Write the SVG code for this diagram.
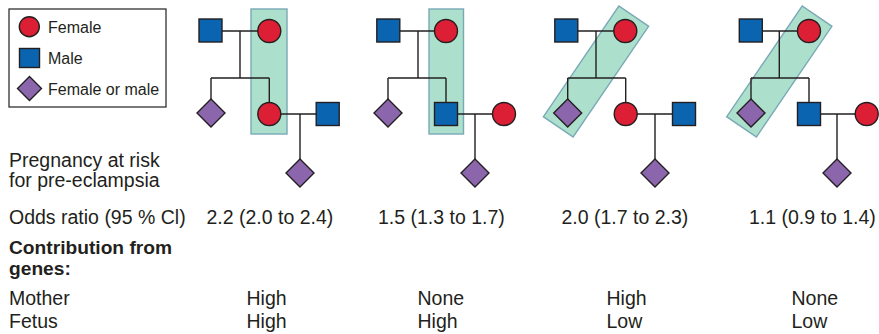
<svg xmlns="http://www.w3.org/2000/svg" width="879" height="334" viewBox="0 0 879 334">
<style>
.t{font-family:"Liberation Sans",Arial,sans-serif;fill:#231f20;font-size:19.5px}
.lg{font-family:"Liberation Sans",Arial,sans-serif;fill:#231f20;font-size:16px}
.b{font-weight:bold;font-size:19.2px}
.f{fill:#dc1f34;stroke:#231f20;stroke-width:1.4}
.m{fill:#0b64b0;stroke:#231f20;stroke-width:1.4}
.d{fill:#8c66ad;stroke:#231f20;stroke-width:1.4}
.hl{fill:#ace0cc;stroke:#7aa9b6;stroke-width:1.4}
.ln{fill:none;stroke:#231f20;stroke-width:1.4}
</style>
<defs>
<circle id="fc" r="11.5" class="f"/>
<rect id="ms" x="-11.5" y="-11.5" width="23" height="23" class="m"/>
<polygon id="dm" points="0,-14 14,0 0,14 -14,0" class="d"/>
</defs>
<rect width="879" height="334" fill="#ffffff"/>

<g id="legend">
<rect x="9" y="9" width="157" height="98" fill="#ffffff" stroke="#231f20" stroke-width="1.2"/>
<circle cx="29.3" cy="26.7" r="10" class="f"/>
<rect x="19.5" y="48.5" width="20" height="19" class="m"/>
<polygon points="29.5,76.5 41.5,88.5 29.5,100.5 17.5,88.5" class="d"/>
<text x="48" y="33" class="lg">Female</text>
<text x="48" y="64" class="lg">Male</text>
<text x="48" y="94.5" class="lg">Female or male</text>
</g>

<g id="highlights">
<rect x="251" y="9" width="36" height="125" class="hl"/>
<rect x="429" y="9" width="34.5" height="125" class="hl"/>
<rect x="-18" y="-67" width="36" height="134" class="hl" transform="translate(596 71.5) rotate(34.3)"/>
<rect x="-18" y="-67" width="36" height="134" class="hl" transform="translate(779.3 71.5) rotate(34.3)"/>
</g>

<g id="connectors">
<path class="ln" d="M210.5 31H269.3M240 31V78M211 78H269.3M211 78V113M269.3 78V114M269.3 114H327.7M300 114V173"/>
<path class="ln" d="M388.3 31H446M418 31V78M388 78H446M388 78V113M446 78V114M446 114H504M475 114V173"/>
<path class="ln" d="M566.3 31H625.3M596 31V78M567.7 78H625.7M567.7 78V113M625.7 78V114M625.7 114H684M655 114V173"/>
<path class="ln" d="M750.8 31H809M779.3 31V78M751 78H809M751 78V113M809 78V114M809 114H866.7M837 114V173"/>
</g>

<g id="pedigree1">
<use href="#ms" x="210.5" y="30.5"/>
<use href="#fc" x="269.3" y="31"/>
<use href="#dm" x="211" y="113"/>
<use href="#fc" x="269.3" y="114"/>
<use href="#ms" x="327.7" y="114"/>
<use href="#dm" x="300" y="173"/>
</g>
<g id="pedigree2">
<use href="#ms" x="388.3" y="30.5"/>
<use href="#fc" x="446" y="31"/>
<use href="#dm" x="388" y="113"/>
<use href="#ms" x="446" y="114"/>
<use href="#fc" x="504" y="114"/>
<use href="#dm" x="475" y="173"/>
</g>
<g id="pedigree3">
<use href="#ms" x="566.3" y="30.5"/>
<use href="#fc" x="625.3" y="31"/>
<use href="#dm" x="567.7" y="113"/>
<use href="#fc" x="625.7" y="114"/>
<use href="#ms" x="684" y="114"/>
<use href="#dm" x="655" y="173"/>
</g>
<g id="pedigree4">
<use href="#ms" x="750.8" y="30.5"/>
<use href="#fc" x="809" y="31"/>
<use href="#dm" x="751" y="113"/>
<use href="#ms" x="809" y="114"/>
<use href="#fc" x="866.7" y="114"/>
<use href="#dm" x="837" y="173"/>
</g>

<g id="table">
<text class="t"><tspan x="9" y="167">Pregnancy at risk</tspan><tspan x="9" y="187">for pre-eclampsia</tspan></text>
<text x="9" y="223.5" class="t">Odds ratio (95 % Cl)</text>
<text x="206.5" y="223.5" class="t">2.2 (2.0 to 2.4)</text>
<text x="378" y="223.5" class="t">1.5 (1.3 to 1.7)</text>
<text x="561.5" y="223.5" class="t">2.0 (1.7 to 2.3)</text>
<text x="749" y="223.5" class="t">1.1 (0.9 to 1.4)</text>
<text class="t b"><tspan x="9" y="254.3">Contribution from</tspan><tspan x="9" y="274.6">genes:</tspan></text>
<text x="9" y="305" class="t">Mother</text>
<text x="9" y="327.5" class="t">Fetus</text>
<text x="246.5" y="305" class="t">High</text>
<text x="246.5" y="327.5" class="t">High</text>
<text x="417.5" y="305" class="t">None</text>
<text x="417.5" y="327.5" class="t">High</text>
<text x="606.5" y="305" class="t">High</text>
<text x="606.5" y="327.5" class="t">Low</text>
<text x="791.5" y="305" class="t">None</text>
<text x="791.5" y="327.5" class="t">Low</text>
</g>
</svg>
